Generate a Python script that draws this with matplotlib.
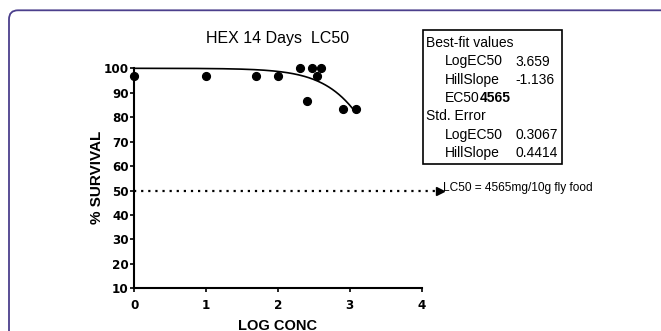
import numpy as np
import matplotlib
matplotlib.use("Agg")
import matplotlib.pyplot as plt
from matplotlib.patches import FancyBboxPatch, Rectangle
from matplotlib.transforms import IdentityTransform

# data
log_conc = [0, 1, 1.7, 2, 2.3, 2.4, 2.48, 2.54, 2.6, 2.9, 3.08]
survival = [96.7, 96.7, 96.7, 96.7, 100, 86.7, 100, 96.7, 100, 83.3, 83.3]

# fitted values shown in the box
log_ec50 = 3.659
hill_slope = -1.136
top, bottom = 100, 0
fit_range = [0, 3.08]

box_labels = ["LogEC50", "HillSlope", "LogEC50", "HillSlope"]
box_values = ["3.659", "-1.136", "0.3067", "0.4414"]

lc50_y = 50
lc50_end = 4.3
lc50_text = "LC50 = 4565mg/10g fly food"

xticks = [0, 1, 2, 3, 4]
yticks = [10, 20, 30, 40, 50, 60, 70, 80, 90, 100]

narrow = ["DejaVu Sans", "Liberation Sans"]
plt.rcParams['font.family'] = ["Liberation Sans", "DejaVu Sans"]

W, H = 661, 331
fig = plt.figure(figsize=(W / 100, H / 100), dpi=100)
ax = fig.add_axes([134.3 / W, 1 - 288.3 / H, 287.4 / W, 220 / H])

# fitted sigmoid
xs = np.linspace(fit_range[0], fit_range[1], 200)
ys = bottom + (top - bottom) / (1 + 10 ** ((log_ec50 - xs) * hill_slope))
ax.plot(xs, ys, color="black", lw=1.2, clip_on=False)

ax.plot(log_conc, survival, "o", color="black", ms=5.6, clip_on=False, zorder=5)

# LC50 dotted line with arrow head
ax.plot([0, lc50_end - 0.1], [lc50_y, lc50_y], color="black", lw=1.6,
        dashes=(1, 2.2), clip_on=False)
ax.plot([lc50_end - 0.05], [lc50_y], marker=">", color="black", ms=6,
        clip_on=False)
ax.text(lc50_end - 0.01, lc50_y + 0.9, lc50_text, fontsize=8.6,
        va="center", ha="left", clip_on=False)

ax.set_xlim(0, 4)
ax.set_ylim(10, 100)
ax.set_xticks(xticks)
ax.set_yticks(yticks)
for s in ["top", "right"]:
    ax.spines[s].set_visible(False)
for s in ["left", "bottom"]:
    ax.spines[s].set_linewidth(1.5)
ax.tick_params(width=1.2, length=3, labelsize=9.5)
ax.tick_params(axis="x", pad=5)
ax.tick_params(axis="y", pad=1)
for lab in ax.get_xticklabels() + ax.get_yticklabels():
    lab.set_fontweight("bold")
    lab.set_fontstretch("condensed")
    lab.set_family(narrow)

fig.text(277.5 / W, 1 - 38.5 / H, "HEX 14 Days  LC50", fontsize=11.5,
         ha="center", va="center")
fig.text(97 / W, 1 - 177 / H, "% SURVIVAL", fontsize=11, fontweight="bold",
         rotation=90, ha="center", va="center")
fig.text(278 / W, 1 - 318.5 / H, "LOG CONC", fontsize=10.5, fontweight="bold",
         ha="center", va="top")

# results box
fig.add_artist(Rectangle((423.3 / W, 1 - 164.3 / H), 139 / W, 134.3 / H,
                         transform=fig.transFigure, fill=False,
                         edgecolor="black", lw=1.2))
row_y = [43.3, 61.5, 79.8, 98.0, 116.3, 134.6, 152.9]
fig.text(426 / W, 1 - row_y[0] / H, "Best-fit values", fontsize=10, va="center")
fig.text(445 / W, 1 - row_y[1] / H, box_labels[0], fontsize=10, va="center")
fig.text(515 / W, 1 - row_y[1] / H, box_values[0], fontsize=10, va="center")
fig.text(445 / W, 1 - row_y[2] / H, box_labels[1], fontsize=10, va="center")
fig.text(515 / W, 1 - row_y[2] / H, box_values[1], fontsize=10, va="center")
ec = fig.text(445 / W, 1 - row_y[3] / H, "EC50", fontsize=10, va="center")
fig.add_artist(plt.Annotation("4565", xy=(1, 0.5), xycoords=ec, fontsize=10,
                              fontweight="bold", va="center", ha="left"))
fig.text(426 / W, 1 - row_y[4] / H, "Std. Error", fontsize=10, va="center")
fig.text(445 / W, 1 - row_y[5] / H, box_labels[2], fontsize=10, va="center")
fig.text(515 / W, 1 - row_y[5] / H, box_values[2], fontsize=10, va="center")
fig.text(445 / W, 1 - row_y[6] / H, box_labels[3], fontsize=10, va="center")
fig.text(515 / W, 1 - row_y[6] / H, box_values[3], fontsize=10, va="center")

# rounded page frame
frame = FancyBboxPatch((9, -40), 720, H - 10.3 + 40,
                       boxstyle="round,pad=0,rounding_size=9",
                       fill=False, edgecolor="#4b3f8c", lw=1.3)
frame.set_transform(IdentityTransform())
fig.add_artist(frame)

fig.savefig("out.png", dpi=100)
